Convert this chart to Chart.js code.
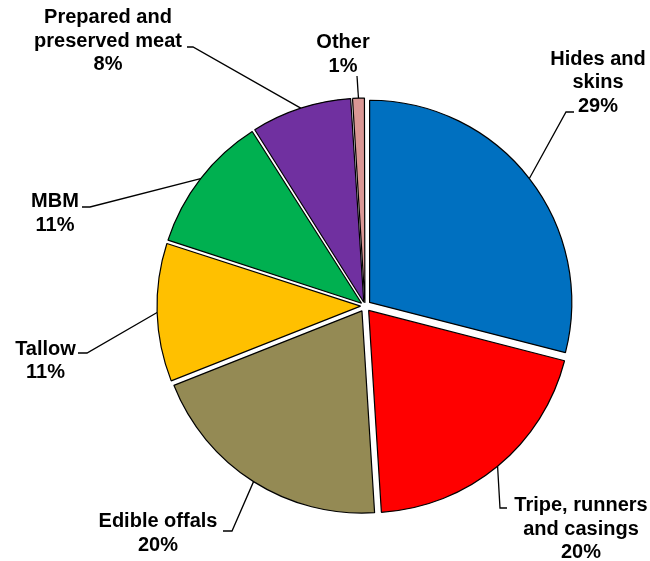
<!DOCTYPE html>
<html>
<head>
<meta charset="utf-8">
<script src="https://cdn.jsdelivr.net/npm/chart.js@4/dist/chart.umd.min.js"></script>
<style>
  html, body { margin: 0; padding: 0; background: #ffffff; }
  #wrap { width: 650px; height: 561px; position: relative; }
</style>
</head>
<body>
<div id="wrap"><canvas id="c" width="650" height="561"></canvas></div>
<script>
// ---- data ----
const categories = [
  "Hides and\nskins",
  "Tripe, runners\nand casings",
  "Edible offals",
  "Tallow",
  "MBM",
  "Prepared and\npreserved meat",
  "Other"
];
const values = [29, 20, 20, 11, 11, 8, 1];
const colors = ["#0070C0", "#FF0000", "#948A54", "#FFC000", "#00B050", "#7030A0", "#D99694"];

// ---- label layout (text centre x, first-line middle y, leader elbow, leader end) ----
const labelLayout = [
  { x: 598, y: 57.5, elbow: [566, 112], end: [574, 112] },
  { x: 581, y: 504,  elbow: [500, 508], end: [507, 508] },
  { x: 158, y: 520,  elbow: [232, 531], end: [223, 531] },
  { x: 45.5, y: 347.5, elbow: [87, 353], end: [78, 353] },
  { x: 55,  y: 200,  elbow: [90, 207],  end: [82, 207] },
  { x: 108, y: 16,   elbow: [193, 47],  end: [187, 47] },
  { x: 343, y: 41,   elbow: [357, 76],  end: [357, 76] }
];

const EXPLODE = 6;      // px each slice is pulled out
const RADIUS = 202;
const LINE_H = 23.5;
const FONT = 'bold 20px "Liberation Sans", Arial, Helvetica, sans-serif';

const total = values.reduce((a, b) => a + b, 0);

const labelPlugin = {
  id: 'outLabels',
  afterDraw(chart) {
    const ctx = chart.ctx;
    const meta = chart.getDatasetMeta(0);
    ctx.save();
    ctx.strokeStyle = '#000000';
    ctx.lineWidth = 1.3;
    ctx.fillStyle = '#000000';
    ctx.font = FONT;
    ctx.textAlign = 'center';
    ctx.textBaseline = 'alphabetic';
    meta.data.forEach((arc, i) => {
      const p = arc.getProps(['x', 'y', 'startAngle', 'endAngle', 'outerRadius'], true);
      const mid = (p.startAngle + p.endAngle) / 2;
      const r = p.outerRadius + EXPLODE;
      const sx = p.x + Math.cos(mid) * r;
      const sy = p.y + Math.sin(mid) * r;
      const L = labelLayout[i];
      ctx.beginPath();
      ctx.moveTo(sx, sy);
      ctx.lineTo(L.elbow[0], L.elbow[1]);
      ctx.lineTo(L.end[0], L.end[1]);
      ctx.stroke();
      const lines = categories[i].split('\n').concat([Math.round(values[i] / total * 100) + '%']);
      lines.forEach((t, k) => {
        ctx.fillText(t, L.x, L.y + k * LINE_H + 7.2);
      });
    });
    ctx.restore();
  }
};

new Chart(document.getElementById('c'), {
  type: 'pie',
  data: {
    labels: categories,
    datasets: [{
      data: values,
      backgroundColor: colors,
      borderColor: '#000000',
      borderWidth: 1.2,
      offset: (c) => {
        const v = c.dataset.data[c.dataIndex];
        const circ = v / total * Math.PI * 2;
        const fix = 1 - Math.sin(Math.min(Math.PI, circ));
        return EXPLODE * 4 / (1 + fix);
      },
      hoverOffset: 0
    }]
  },
  options: {
    responsive: false,
    animation: false,
    radius: RADIUS,
    layout: { padding: { left: 80, top: 51, right: 0, bottom: 0 } },
    plugins: {
      legend: { display: false },
      tooltip: { enabled: false }
    },
    events: []
  },
  plugins: [labelPlugin]
});
</script>
</body>
</html>
